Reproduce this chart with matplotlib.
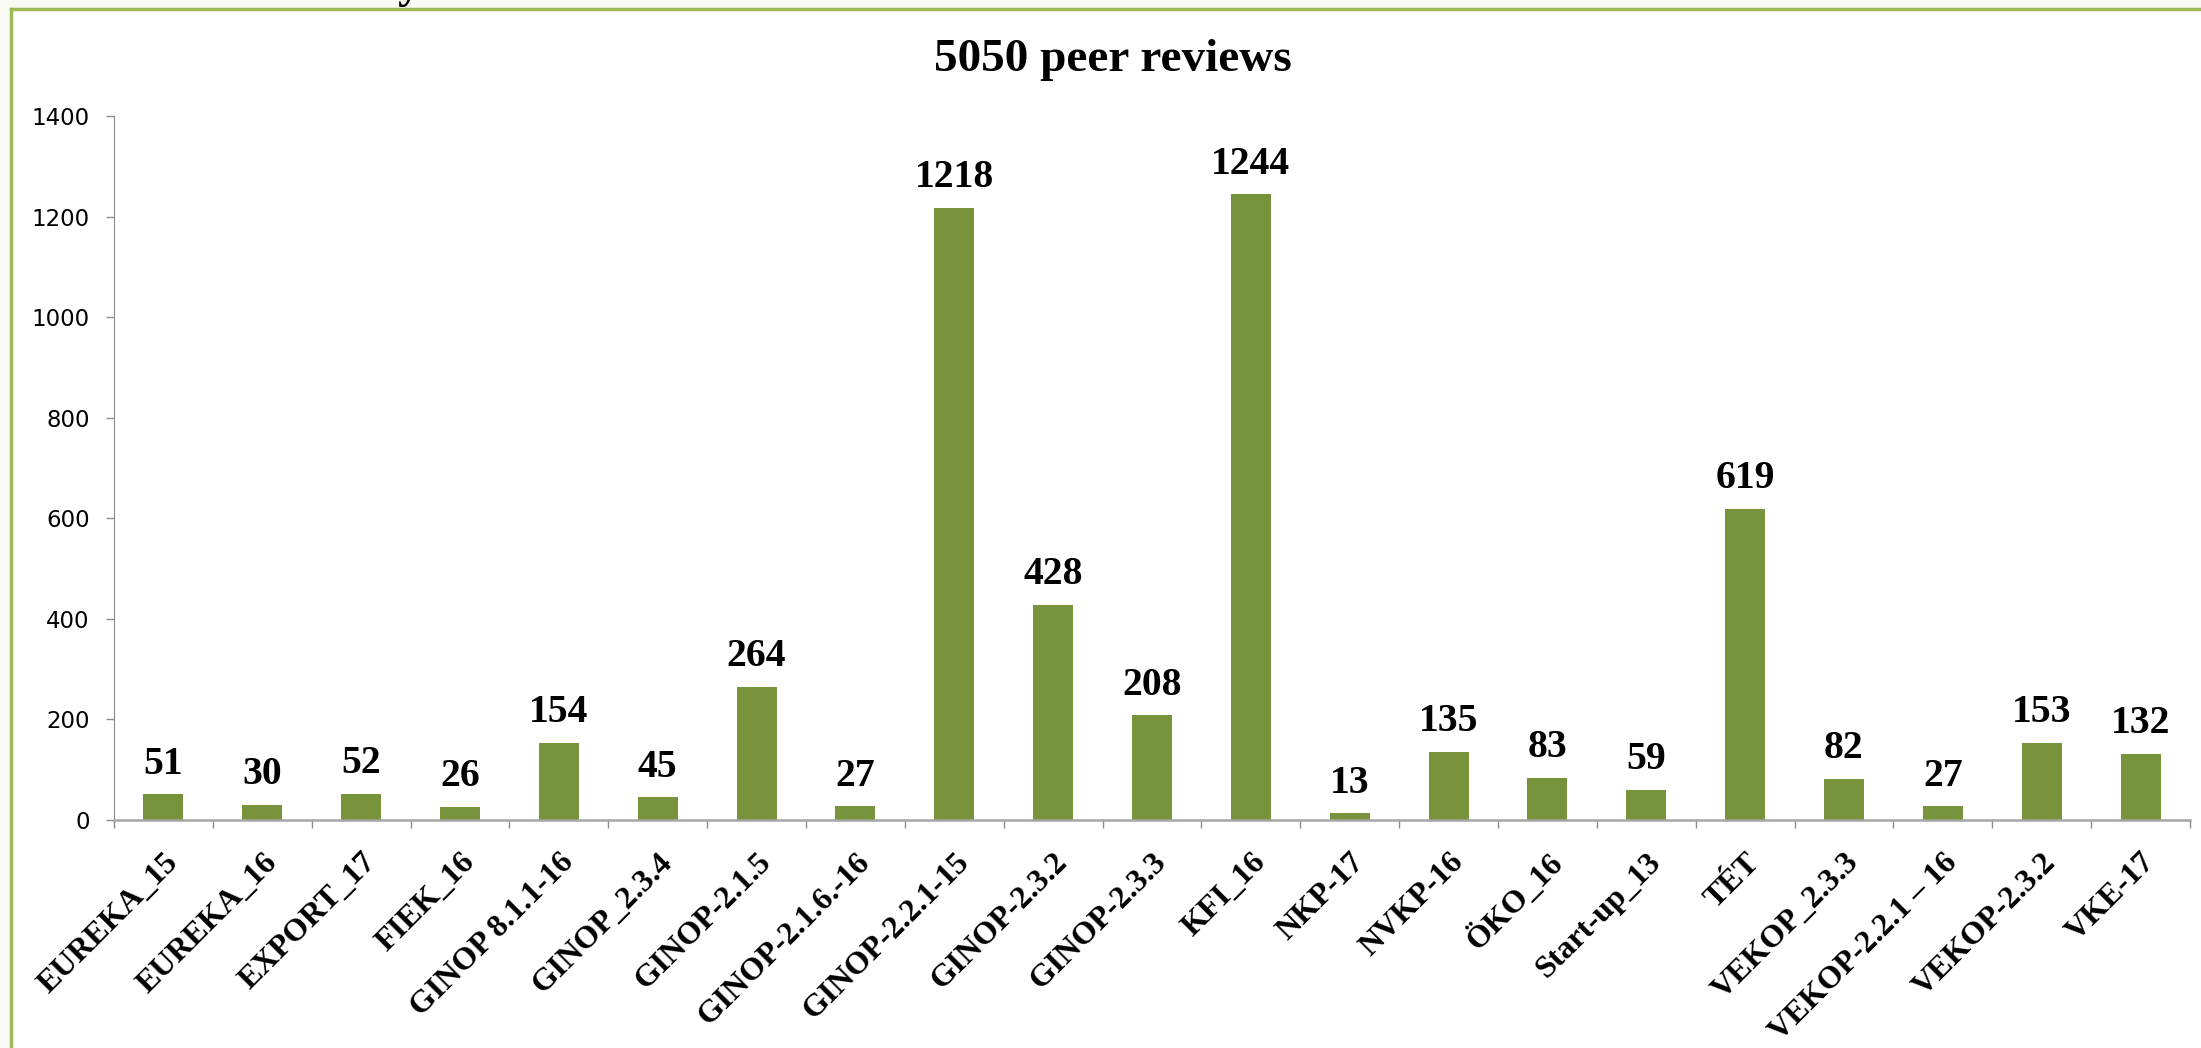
import matplotlib
matplotlib.use("Agg")
import matplotlib.pyplot as plt
from matplotlib.lines import Line2D
from matplotlib.patches import Rectangle
import numpy as np

categories = ["EUREKA_15", "EUREKA_16", "EXPORT_17", "FIEK_16", "GINOP 8.1.1-16",
              "GINOP_2.3.4", "GINOP-2.1.5", "GINOP-2.1.6.-16", "GINOP-2.2.1-15",
              "GINOP-2.3.2", "GINOP-2.3.3", "KFI_16", "NKP-17", "NVKP-16", "ÖKO_16",
              "Start-up_13", "TÉT", "VEKOP_2.3.3", "VEKOP-2.2.1 – 16", "VEKOP-2.3.2", "VKE-17"]
values = [51, 30, 52, 26, 154, 45, 264, 27, 1218, 428, 208, 1244, 13, 135, 83, 59, 619, 82, 27, 153, 132]
title = "5050 peer reviews"
yticks = [0, 200, 400, 600, 800, 1000, 1200, 1400]

W, H = 2201, 1048
fig = plt.figure(figsize=(W / 100, H / 100), dpi=100)
fig.patch.set_facecolor("#f9faf3")

# white panel with green frame (left and top edges visible)
bx, by = 11 / W, 1 - 9 / H
fig.patches.append(Rectangle((bx, 0), 1 - bx, by, transform=fig.transFigure,
                             facecolor="white", edgecolor="none", zorder=-3))
fig.lines.append(Line2D([bx, bx], [0, by], transform=fig.transFigure,
                        color="#9bbb59", lw=2.5, zorder=-2))
fig.lines.append(Line2D([bx, 1], [by, by], transform=fig.transFigure,
                        color="#9bbb59", lw=2.5, zorder=-2))
# cut-off heading descender at the very top
fig.text(398 / W, 1 + 3 / H, "y", fontsize=33, fontweight="bold",
         family="Liberation Serif", ha="left", va="baseline")

ax = fig.add_axes([114 / W, 1 - 820 / H, (2190 - 114) / W, (820 - 116) / H])
ax.set_zorder(1)
ax.set_facecolor("none")
x = np.arange(len(categories))
ax.bar(x, values, width=0.405, color="#77933c", zorder=2)

for xi, v in zip(x, values):
    ax.annotate(str(v), (xi, v), xytext=(0, 15), textcoords="offset points",
                ha="center", va="baseline", fontsize=28.5, fontweight="bold",
                family="Liberation Serif")

ax.set_xlim(-0.5, len(categories) - 0.5)
ax.set_ylim(0, 1400)
ax.set_yticks(yticks)
ax.set_yticklabels([str(t) for t in yticks], fontsize=16.5, family="DejaVu Sans")
ax.tick_params(axis="y", direction="out", length=5.5, width=1, color="#8c8c8c", pad=12)

ax.set_xticks(x)
ax.set_xticklabels(categories, rotation=45, ha="right", rotation_mode="anchor",
                   fontsize=23, fontweight="bold", family="Liberation Serif")
ax.tick_params(axis="x", which="major", length=0, pad=20)
ax.set_xticks(np.arange(-0.5, len(categories)), minor=True)
ax.tick_params(axis="x", which="minor", direction="out", length=6, width=1, color="#8c8c8c")

for s in ["top", "right"]:
    ax.spines[s].set_visible(False)
ax.spines["left"].set_color("#8c8c8c")
ax.spines["bottom"].set_color("#a6a6a6")
ax.spines["bottom"].set_linewidth(1.8)

fig.text(1113 / W, 1 - 70.7 / H, title, ha="center", va="baseline",
         fontsize=34, fontweight="bold", family="Liberation Serif")

fig.savefig("out.png", dpi=100, facecolor=fig.get_facecolor())
